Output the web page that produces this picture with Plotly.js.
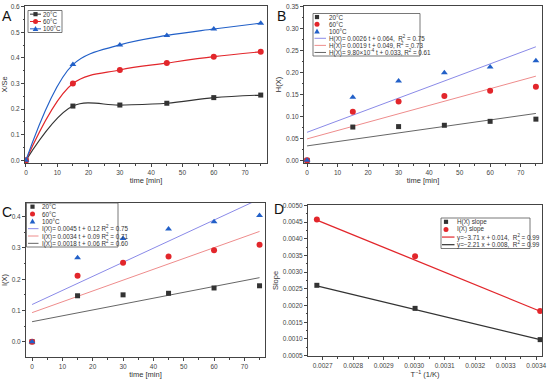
<!DOCTYPE html>
<html><head><meta charset="utf-8">
<script src="https://cdn.plot.ly/plotly-3.0.1.min.js"></script>
<style>body{margin:0;background:#fff}#c{width:550px;height:383px}</style>
</head><body><div id="c"></div>
<script>
// ---------- data ----------
const time = [0, 15, 30, 45, 60, 75];
const seriesNames = ['20°C', '60°C', '100°C'];
// Panel A  X/Se
const A_20 = [0, 0.212, 0.216, 0.223, 0.245, 0.255];
const A_60 = [0, 0.300, 0.353, 0.380, 0.405, 0.424];
const A_100 = [0, 0.374, 0.451, 0.488, 0.513, 0.536];
// Panel B  H(X)
const B_20 = [0, 0.076, 0.077, 0.080, 0.089, 0.094];
const B_60 = [0, 0.111, 0.134, 0.147, 0.159, 0.168];
const B_100 = [0, 0.144, 0.181, 0.200, 0.213, 0.227];
const B_fitT = [0, 75];
const B_fit100 = [0.064, 0.259];
const B_fit60 = [0.049, 0.192];
const B_fit20 = [0.033, 0.107];
const B_fitLabels = ['H(X)= 0.0026 t + 0.064,  R<sup>2</sup> = 0.75', 'H(X)= 0.0019 t + 0.049, R<sup>2</sup> = 0.73', 'H(X)= 9.80×10<sup>-4</sup> t + 0.033, R<sup>2</sup> = 0.61'];
// Panel C  I(X)
const C_20 = [0, 0.147, 0.150, 0.155, 0.172, 0.179];
const C_60 = [0, 0.211, 0.253, 0.273, 0.293, 0.310];
const C_100 = [0, 0.269, 0.330, 0.361, 0.384, 0.404];
const C_fitT = [0, 75];
const C_fit100 = [0.119, 0.457];
const C_fit60 = [0.093, 0.353];
const C_fit20 = [0.064, 0.205];
const C_fitLabels = ['I(X)= 0.0045 t + 0.12 R<sup>2</sup> = 0.75', 'I(X)= 0.0034 t + 0.09 R<sup>2</sup> = 0.71', 'I(X)= 0.0018 t + 0.06 R<sup>2</sup> = 0.60'];
// Panel D  slopes vs 1/T
const invT = [0.002681, 0.003003, 0.003413];
const H_slope = [0.002606, 0.001916, 0.00098];
const I_slope = [0.004576, 0.003473, 0.001837];
const D_fitX = [0.002681, 0.003413];
const D_fitI = [0.00456, 0.00183];
const D_fitH = [0.00259, 0.00098];
const D_labels = ['H(X) slope', 'I(X) slope', 'y=−3.71 x + 0.014,  R<sup>2</sup> = 0.99', 'y=−2.21 x + 0.008,  R<sup>2</sup> = 0.99'];

// ---------- style ----------
const W = 550, H = 383;
const BLK = '#333333', RED = '#e2262b', BLU = '#2260c8';
const fitBlu = '#8a8ae8', fitRed = '#ee8c8c', fitBlk = '#666666';
const FONT = 'Liberation Sans, Arial, sans-serif';
const px = x => x / W, py = y => 1 - y / H;

const mk = {
  sq: c => ({symbol: 'square', size: 5, color: c}),
  ci: c => ({symbol: 'circle', size: 6, color: c}),
  tr: c => ({symbol: 'triangle-up', size: 6, color: c})
};

const traces = [];
// A
[[A_20, BLK, 'sq'], [A_60, RED, 'ci'], [A_100, BLU, 'tr']].forEach(([y, c, s], i) => {
  traces.push({x: time, y: y, xaxis: 'x', yaxis: 'y', mode: 'lines+markers', name: seriesNames[i],
    line: {color: c, width: 1.2, shape: 'spline', smoothing: 1.0}, marker: mk[s](c), showlegend: false});
});
// B fits then points
[[B_fit100, fitBlu], [B_fit60, fitRed], [B_fit20, fitBlk]].forEach(([y, c]) => {
  traces.push({x: B_fitT, y: y, xaxis: 'x2', yaxis: 'y2', mode: 'lines', line: {color: c, width: 1}, showlegend: false});
});
[[B_20, BLK, 'sq'], [B_60, RED, 'ci'], [B_100, BLU, 'tr']].forEach(([y, c, s]) => {
  traces.push({x: time, y: y, xaxis: 'x2', yaxis: 'y2', mode: 'markers', marker: mk[s](c), showlegend: false});
});
// C
[[C_fit100, fitBlu], [C_fit60, fitRed], [C_fit20, fitBlk]].forEach(([y, c]) => {
  traces.push({x: C_fitT, y: y, xaxis: 'x3', yaxis: 'y3', mode: 'lines', line: {color: c, width: 1}, showlegend: false});
});
[[C_20, BLK, 'sq'], [C_60, RED, 'ci'], [C_100, BLU, 'tr']].forEach(([y, c, s]) => {
  traces.push({x: time, y: y, xaxis: 'x3', yaxis: 'y3', mode: 'markers', marker: mk[s](c), showlegend: false});
});
// D
traces.push({x: D_fitX, y: D_fitI, xaxis: 'x4', yaxis: 'y4', mode: 'lines', line: {color: RED, width: 1.3}, showlegend: false});
traces.push({x: D_fitX, y: D_fitH, xaxis: 'x4', yaxis: 'y4', mode: 'lines', line: {color: BLK, width: 1.3}, showlegend: false});
traces.push({x: invT, y: H_slope, xaxis: 'x4', yaxis: 'y4', mode: 'markers', marker: mk.sq(BLK), showlegend: false});
traces.push({x: invT, y: I_slope, xaxis: 'x4', yaxis: 'y4', mode: 'markers', marker: mk.ci(RED), showlegend: false});

function ax(dom, range, dtick, fmt, title, isY, minorD) {
  return {
    domain: dom, range: range, dtick: dtick, tick0: 0, tickformat: fmt,
    showgrid: false, zeroline: false, showline: true, mirror: true,
    linecolor: '#444', linewidth: 1, ticks: 'outside', ticklen: 3, tickwidth: 1, tickcolor: '#444',
    minor: {ticks: 'outside', ticklen: 1.5, dtick: minorD, tickcolor: '#444', showgrid: false},
    tickfont: {size: 6.5, color: '#444', family: FONT},
    title: {text: title, font: {size: 7.5, color: '#333', family: FONT}, standoff: isY ? 3 : 1},
    automargin: false
  };
}

const layout = {
  width: W, height: H, margin: {l: 0, r: 0, t: 0, b: 0},
  paper_bgcolor: '#fff', plot_bgcolor: '#fff', showlegend: false,
  font: {family: FONT, color: '#333'},
  xaxis: Object.assign(ax([px(25), px(267)], [-0.3, 77], 10, 'd', 'time [min]', false, 5), {anchor: 'y'}),
  yaxis: Object.assign(ax([py(163), py(6)], [-0.0105, 0.603], 0.1, '.1f', 'X/Se', true, 0.05), {anchor: 'x'}),
  xaxis2: Object.assign(ax([px(304), px(542)], [-1, 77], 10, 'd', 'time [min]', false, 5), {anchor: 'y2'}),
  yaxis2: Object.assign(ax([py(163), py(6)], [-0.006, 0.352], 0.05, '.2f', 'H(X)', true, 0.025), {anchor: 'x2'}),
  xaxis3: Object.assign(ax([px(26), px(265)], [-2, 76.8], 10, 'd', 'time [min]', false, 5), {anchor: 'y3'}),
  yaxis3: Object.assign(ax([py(357), py(203)], [-0.049, 0.444], 0.1, '.1f', 'I(X)', true, 0.05), {anchor: 'x3'}),
  xaxis4: Object.assign(ax([px(308), px(542)], [0.002652, 0.003419], 0.0001, '.4f', 'T<sup>−1</sup> (1/K)', false, 0.00005), {anchor: 'y4'}),
  yaxis4: Object.assign(ax([py(356), py(205)], [0.00049, 0.00501], 0.0005, '.4f', 'Slope', true, 0.00025), {anchor: 'x4'}),
  shapes: [], annotations: []
};

// panel letters
[['A', 1, 16], ['B', 276, 16], ['C', 1, 212], ['D', 273, 209]].forEach(([t, x, y]) => {
  layout.annotations.push({text: t, x: px(x), y: py(y), xref: 'paper', yref: 'paper', xanchor: 'left', yanchor: 'middle',
    showarrow: false, borderpad: 0, font: {size: 14, color: '#111', family: FONT}});
});

// custom legends (box in pixels, entries)
function legend(x0, y0, x1, y1, entries, symX, lineX0, lineX1, textX) {
  layout.shapes.push({type: 'rect', xref: 'paper', yref: 'paper', x0: px(x0), x1: px(x1), y0: py(y0), y1: py(y1),
    line: {color: '#555', width: 0.8}, fillcolor: 'rgba(255,255,255,0)'});
  const rh = (y1 - y0) / entries.length;
  entries.forEach((e, i) => {
    const yc = y0 + rh * (i + 0.5);
    if (e.line) {
      layout.shapes.push({type: 'line', xref: 'paper', yref: 'paper', x0: px(lineX0), x1: px(lineX1), y0: py(yc), y1: py(yc),
        line: {color: e.line, width: e.lw || 1}});
    }
    if (e.sym) {
      const s = 2.1, c = e.color;
      if (e.sym === 'sq') layout.shapes.push({type: 'rect', xref: 'paper', yref: 'paper', x0: px(symX - s), x1: px(symX + s), y0: py(yc - s), y1: py(yc + s), line: {width: 0}, fillcolor: c});
      if (e.sym === 'ci') layout.shapes.push({type: 'circle', xref: 'paper', yref: 'paper', x0: px(symX - 2.5), x1: px(symX + 2.5), y0: py(yc - 2.5), y1: py(yc + 2.5), line: {width: 0}, fillcolor: c});
      if (e.sym === 'tr') layout.shapes.push({type: 'path', xref: 'paper', yref: 'paper',
        path: `M ${px(symX - 2.8)} ${py(yc + 2.2)} L ${px(symX + 2.8)} ${py(yc + 2.2)} L ${px(symX)} ${py(yc - 2.8)} Z`, line: {width: 0}, fillcolor: c});
    }
    layout.annotations.push({text: e.text, x: px(textX), y: py(yc), xref: 'paper', yref: 'paper', xanchor: 'left', yanchor: 'middle',
      showarrow: false, borderpad: 0, font: {size: 6.3, color: '#333', family: FONT}});
  });
}

legend(28, 10.5, 62, 32.5, [
  {text: seriesNames[0], sym: 'sq', color: BLK, line: BLK},
  {text: seriesNames[1], sym: 'ci', color: RED, line: RED},
  {text: seriesNames[2], sym: 'tr', color: BLU, line: BLU}
], 35.5, 30, 41, 42);

legend(313, 13.5, 420, 56, [
  {text: seriesNames[0], sym: 'sq', color: BLK},
  {text: seriesNames[1], sym: 'ci', color: RED},
  {text: seriesNames[2], sym: 'tr', color: BLU},
  {text: B_fitLabels[0], line: fitBlu},
  {text: B_fitLabels[1], line: fitRed},
  {text: B_fitLabels[2], line: fitBlk}
], 317, 314.5, 326, 328);

legend(26.5, 203, 118, 247, [
  {text: seriesNames[0], sym: 'sq', color: BLK},
  {text: seriesNames[1], sym: 'ci', color: RED},
  {text: seriesNames[2], sym: 'tr', color: BLU},
  {text: C_fitLabels[0], line: fitBlu},
  {text: C_fitLabels[1], line: fitRed},
  {text: C_fitLabels[2], line: fitBlk}
], 32.5, 28, 38.5, 40.5);

legend(441, 218, 530, 248.5, [
  {text: D_labels[0], sym: 'sq', color: BLK},
  {text: D_labels[1], sym: 'ci', color: RED},
  {text: D_labels[2], line: RED, lw: 1.2},
  {text: D_labels[3], line: BLK, lw: 1.2}
], 446, 442, 454.5, 456);

Plotly.newPlot('c', traces, layout, {staticPlot: true, displayModeBar: false});
</script></body></html>
